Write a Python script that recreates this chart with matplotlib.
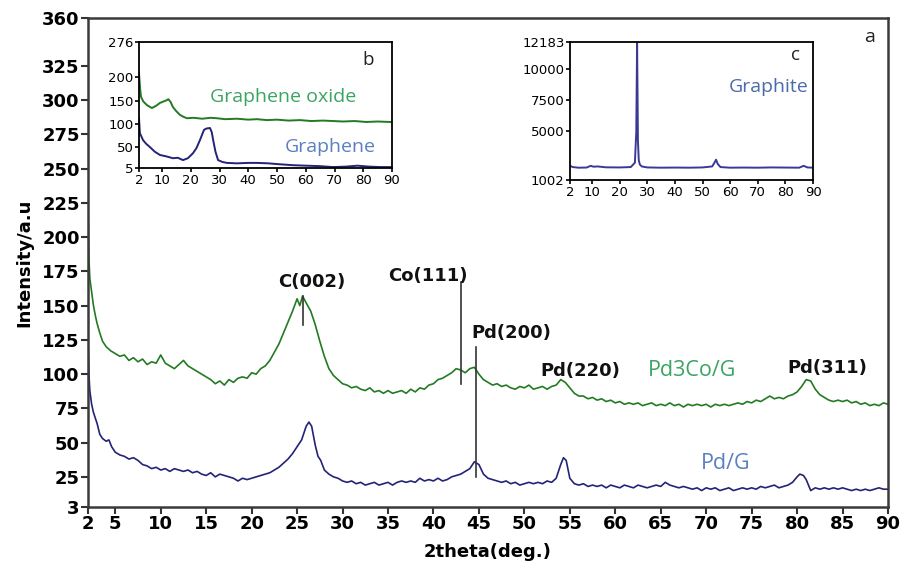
import matplotlib
matplotlib.use("Agg")
import matplotlib.pyplot as plt

# ---------------- data ----------------
pd3co_x = [2.0, 2.1, 2.2, 2.4, 2.6, 2.8, 3.0, 3.3, 3.6, 4.0, 4.5, 5.0, 5.5, 6.0, 6.5, 7.0, 7.5, 8.0, 8.5, 9.0,
           9.5, 10.0, 10.5, 11.0, 11.5, 12.0, 12.5, 13.0, 13.5, 14.0, 14.5, 15.0, 15.5, 16.0, 16.5, 17.0, 17.5,
           18.0, 18.5, 19.0, 19.5, 20.0, 20.5, 21.0, 21.5, 22.0, 22.5, 23.0, 23.5, 24.0, 24.5, 25.0, 25.3, 25.6,
           26.0, 26.5, 27.0, 27.5, 28.0, 28.5, 29.0, 29.5, 30.0, 30.5, 31.0, 31.5, 32.0, 32.5, 33.0, 33.5, 34.0,
           34.5, 35.0, 35.5, 36.0, 36.5, 37.0, 37.5, 38.0, 38.5, 39.0, 39.5, 40.0, 40.5, 41.0, 41.5, 42.0, 42.5,
           43.0, 43.5, 44.0, 44.5, 45.0, 45.5, 46.0, 46.5, 47.0, 47.5, 48.0, 48.5, 49.0, 49.5, 50.0, 50.5, 51.0,
           51.5, 52.0, 52.5, 53.0, 53.5, 54.0, 54.5, 55.0, 55.5, 56.0, 56.5, 57.0, 57.5, 58.0, 58.5, 59.0, 59.5,
           60.0, 60.5, 61.0, 61.5, 62.0, 62.5, 63.0, 63.5, 64.0, 64.5, 65.0, 65.5, 66.0, 66.5, 67.0, 67.5, 68.0,
           68.5, 69.0, 69.5, 70.0, 70.5, 71.0, 71.5, 72.0, 72.5, 73.0, 73.5, 74.0, 74.5, 75.0, 75.5, 76.0, 76.5,
           77.0, 77.5, 78.0, 78.5, 79.0, 79.5, 80.0, 80.5, 81.0, 81.5, 82.0, 82.5, 83.0, 83.5, 84.0, 84.5, 85.0,
           85.5, 86.0, 86.5, 87.0, 87.5, 88.0, 88.5, 89.0, 89.5, 90.0]
pd3co_y = [222, 185, 170, 160, 150, 143, 137, 130, 124, 120, 117, 115, 113, 114, 110, 112, 109, 111, 107, 109,
           108, 114, 108, 106, 104, 107, 110, 106, 104, 102, 100, 98, 96, 93, 95, 92, 96,
           94, 97, 98, 97, 101, 100, 104, 106, 110, 116, 122, 130, 138, 146, 155, 150, 157,
           152, 146, 136, 124, 113, 104, 99, 96, 93, 92, 90, 91, 89, 88, 90, 87, 88,
           86, 88, 86, 87, 88, 86, 89, 87, 90, 89, 92, 93, 96, 97, 99, 101, 104,
           103, 101, 104, 105, 100, 96, 94, 92, 93, 91, 92, 90, 89, 91, 90, 92, 89,
           90, 91, 89, 91, 92, 96, 94, 90, 86, 84, 84, 82, 83, 81, 82, 80, 81,
           79, 80, 78, 79, 78, 79, 77, 78, 79, 77, 78, 77, 79, 77, 78, 76, 78,
           77, 78, 77, 78, 76, 78, 77, 78, 77, 78, 79, 78, 80, 79, 81, 80, 82,
           84, 82, 83, 82, 84, 85, 87, 91, 96, 95, 89, 85, 83, 81, 80, 81, 80,
           81, 79, 80, 78, 79, 77, 78, 77, 79, 78]

pdg_x = [2.0, 2.1, 2.2, 2.4, 2.6, 2.8, 3.0, 3.3, 3.6, 4.0, 4.3, 4.6, 5.0, 5.5, 6.0, 6.5, 7.0, 7.5, 8.0, 8.5,
         9.0, 9.5, 10.0, 10.5, 11.0, 11.5, 12.0, 12.5, 13.0, 13.5, 14.0, 14.5, 15.0, 15.5, 16.0, 16.5, 17.0,
         17.5, 18.0, 18.5, 19.0, 19.5, 20.0, 20.5, 21.0, 21.5, 22.0, 22.5, 23.0, 23.5, 24.0, 24.5, 25.0, 25.5,
         26.0, 26.3, 26.6, 27.0, 27.3, 27.6, 28.0, 28.5, 29.0, 29.5, 30.0, 30.5, 31.0, 31.5, 32.0, 32.5, 33.0,
         33.5, 34.0, 34.5, 35.0, 35.5, 36.0, 36.5, 37.0, 37.5, 38.0, 38.5, 39.0, 39.5, 40.0, 40.5, 41.0, 41.5,
         42.0, 42.5, 43.0, 43.5, 44.0, 44.5, 45.0, 45.5, 46.0, 46.5, 47.0, 47.5, 48.0, 48.5, 49.0, 49.5, 50.0,
         50.5, 51.0, 51.5, 52.0, 52.5, 53.0, 53.5, 54.0, 54.3, 54.6, 55.0, 55.5, 56.0, 56.5, 57.0, 57.5, 58.0,
         58.5, 59.0, 59.5, 60.0, 60.5, 61.0, 61.5, 62.0, 62.5, 63.0, 63.5, 64.0, 64.5, 65.0, 65.5, 66.0, 66.5,
         67.0, 67.5, 68.0, 68.5, 69.0, 69.5, 70.0, 70.5, 71.0, 71.5, 72.0, 72.5, 73.0, 73.5, 74.0, 74.5, 75.0,
         75.5, 76.0, 76.5, 77.0, 77.5, 78.0, 78.5, 79.0, 79.5, 80.0, 80.3, 80.7, 81.0, 81.5, 82.0, 82.5, 83.0,
         83.5, 84.0, 84.5, 85.0, 85.5, 86.0, 86.5, 87.0, 87.5, 88.0, 88.5, 89.0, 89.5, 90.0]
pdg_y = [125, 100, 88, 78, 72, 68, 64, 56, 53, 51, 52, 47, 43, 41, 40, 38, 39, 37, 34, 33,
         31, 32, 30, 31, 29, 31, 30, 29, 30, 28, 29, 27, 26, 28, 25, 27, 26,
         25, 24, 22, 24, 23, 24, 25, 26, 27, 28, 30, 32, 35, 38, 42, 47, 52,
         62, 65, 62, 48, 40, 37, 30, 27, 25, 24, 22, 21, 22, 20, 21, 19, 20,
         21, 19, 20, 21, 19, 21, 22, 21, 22, 21, 24, 22, 23, 22, 24, 22, 23,
         25, 26, 27, 29, 31, 36, 34, 27, 24, 23, 22, 21, 22, 20, 21, 19, 20,
         21, 20, 21, 20, 22, 21, 24, 34, 39, 37, 24, 20, 19, 20, 18, 19, 18,
         19, 17, 19, 18, 17, 19, 18, 17, 19, 18, 17, 18, 19, 18, 21, 19, 18,
         17, 18, 17, 16, 17, 15, 17, 16, 17, 15, 16, 17, 15, 16, 17, 16, 17,
         16, 18, 17, 18, 19, 17, 18, 19, 21, 25, 27, 26, 23, 15, 17, 16, 17,
         16, 17, 16, 17, 16, 15, 16, 15, 16, 15, 16, 17, 16, 16]

# inset b
go_x = [2.0, 2.4, 2.7, 3.5, 4.8, 6.5, 8.0, 9.3, 10.5, 11.7, 12.2, 13.0, 13.8, 15.0, 16.3, 17.5, 18.7, 21.0,
        24.0, 27.0, 29.1, 32.0, 36.0, 40.0, 43.0, 46.5, 50.0, 54.0, 58.0, 62.0, 66.0, 69.5, 73.0, 77.0,
        81.0, 85.0, 89.3, 90.0]
go_y = [209, 175, 158, 148, 140, 134, 139, 145, 148, 151, 153, 147, 136, 127, 119, 115, 112, 113,
        111, 113, 112, 110, 111, 109, 110, 108, 109, 107, 108, 106, 107, 106, 105, 106,
        104, 105, 104, 104]
gr_x = [2.0, 2.3, 3.4, 4.5, 5.8, 7.5, 9.3, 11.5, 13.8, 15.5, 17.3, 19.0, 20.8, 22.0, 23.2, 24.6, 25.5,
        26.7, 27.3, 27.8, 28.6, 29.5, 31.0, 32.6, 36.0, 40.0, 43.0, 47.0, 51.0, 55.6, 60.0, 65.0, 69.5,
        74.0, 78.0, 82.0, 86.0, 90.0]
gr_y = [112, 80, 65, 57, 50, 40, 33, 30, 26, 27, 22, 26, 37, 48, 65, 87, 90, 91, 82, 65, 40, 22, 18,
        16, 15, 16, 16, 15, 13, 11, 10, 9, 7, 8, 10, 8, 7, 7]

# inset c
gt_x = [2.0, 3.0, 5.0, 8.0, 9.5, 10.5, 12.0, 15.0, 20.0, 24.0, 25.5, 26.0, 26.3, 26.6, 26.9, 27.3,
        28.0, 30.0, 35.0, 40.0, 45.0, 50.0, 53.5, 54.3, 54.9, 55.5, 56.5, 60.0, 65.0, 70.0, 75.0,
        80.0, 85.0, 86.6, 88.0, 90.0]
gt_y = [2150, 2050, 2000, 2010, 2150, 2080, 2100, 2030, 2020, 2050, 2400, 4900, 12183, 4200, 2600,
        2250, 2100, 2020, 2000, 2010, 2000, 2020, 2100, 2400, 2650, 2300, 2050, 2000, 2010, 2000,
        2020, 2010, 2000, 2150, 2020, 2000]

main_xticks = [2, 5, 10, 15, 20, 25, 30, 35, 40, 45, 50, 55, 60, 65, 70, 75, 80, 85, 90]
main_yticks = [3, 25, 50, 75, 100, 125, 150, 175, 200, 225, 250, 275, 300, 325, 360]
inset_xticks = [2, 10, 20, 30, 40, 50, 60, 70, 80, 90]
b_yticks = [5, 50, 100, 150, 200, 276]
c_yticks = [1002, 5000, 7500, 10000, 12183]

# peak markers
peak_labels = ["C(002)", "Co(111)", "Pd(200)", "Pd(220)", "Pd(311)"]
peak_label_x = [26.6, 39.4, 48.6, 56.2, 83.3]
peak_label_y = [167, 172, 130, 102, 104.5]
peak_line_x = [25.6, 43.0, 44.7, None, None]
peak_line_y0 = [136, 93, 25, None, None]
peak_line_y1 = [157, 167, 120, None, None]

GREEN = "#237a23"
NAVY = "#232378"
LGREEN = "#3aa463"
LBLUE = "#5b7fbf"

plt.rcParams["font.family"] = ["DejaVu Sans"]

fig = plt.figure(figsize=(9.01, 5.75), dpi=100)
ax = fig.add_axes([88 / 901, 68 / 575, 800 / 901, 489 / 575])

ax.plot(pd3co_x, pd3co_y, color=GREEN, lw=1.2)
ax.plot(pdg_x, pdg_y, color=NAVY, lw=1.2)

for lab, lx, ly, vx, y0, y1 in zip(peak_labels, peak_label_x, peak_label_y,
                                    peak_line_x, peak_line_y0, peak_line_y1):
    ax.text(lx, ly, lab, ha="center", va="center", fontsize=13, fontweight="bold", color="#111111")
    if vx is not None:
        ax.plot([vx, vx], [y0, y1], color="#333333", lw=1.2)

ax.text(68.5, 103, "Pd3Co/G", color=LGREEN, fontsize=15.5, ha="center", va="center", family="Open Sans")
ax.text(72.1, 35, "Pd/G", color=LBLUE, fontsize=15.5, ha="center", va="center", family="Open Sans")
ax.text(88.0, 346, "a", color="#222222", fontsize=14, ha="center", va="center", family="Open Sans")

ax.set_xlim(2, 90)
ax.set_ylim(3, 360)
ax.set_xticks(main_xticks)
ax.set_yticks(main_yticks)
ax.tick_params(direction="out", length=5, width=1.5, pad=1, labelsize=13, color="#333333")
for t in ax.get_xticklabels() + ax.get_yticklabels():
    t.set_fontweight("bold")
for s in ax.spines.values():
    s.set_linewidth(1.8)
    s.set_color("#3a3a3a")
ax.set_ylabel("Intensity/a.u", fontsize=13, fontweight="bold", labelpad=6)
ax.set_xlabel("2theta(deg.)", fontsize=13, fontweight="bold", labelpad=7)

# inset b
axb = fig.add_axes([139 / 901, 407 / 575, 253 / 901, 126 / 575])
axb.plot(go_x, go_y, color=GREEN, lw=1.4)
axb.plot(gr_x, gr_y, color=NAVY, lw=1.4)
axb.set_xlim(2, 90)
axb.set_ylim(5, 276)
axb.set_xticks(inset_xticks)
axb.set_yticks(b_yticks)
axb.tick_params(direction="out", length=3, width=1.2, pad=1, labelsize=9.5)
for s in axb.spines.values():
    s.set_linewidth(1.3)
axb.text(52.1, 158, "Graphene oxide", color=LGREEN, fontsize=14, ha="center", va="center", family="Open Sans")
axb.text(68.4, 50, "Graphene", color=LBLUE, fontsize=14, ha="center", va="center", family="Open Sans")
axb.text(81.7, 237, "b", color="#222222", fontsize=13.5, ha="center", va="center", family="Open Sans")

# inset c
axc = fig.add_axes([570 / 901, 395 / 575, 243 / 901, 138 / 575])
axc.plot(gt_x, gt_y, color="#3a3a96", lw=1.4)
axc.set_xlim(2, 90)
axc.set_ylim(1002, 12183)
axc.set_xticks(inset_xticks)
axc.set_yticks(c_yticks)
axc.tick_params(direction="out", length=3, width=1.2, pad=1, labelsize=9.5)
for s in axc.spines.values():
    s.set_linewidth(1.3)
axc.text(83.5, 11130, "c", color="#222222", fontsize=13.5, ha="center", va="center", family="Open Sans")
axc.text(88.5, 8535, "Graphite", color="#4a6aa8", fontsize=14, ha="right", va="center", family="Open Sans")

fig.savefig("out.png", dpi=100)
